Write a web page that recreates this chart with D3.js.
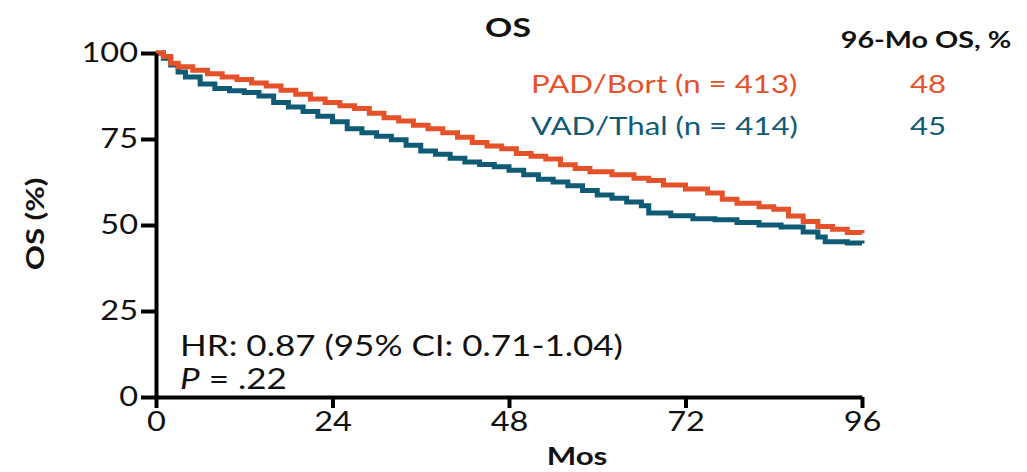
<!DOCTYPE html>
<html>
<head>
<meta charset="utf-8">
<script src="https://cdn.jsdelivr.net/npm/d3@7"></script>
<style>
  body { margin: 0; background: #fff; }
  svg { display: block; }
</style>
</head>
<body>
<svg id="chart" width="1027" height="472"></svg>
<script>
// Kaplan-Meier overall survival, step points (month, OS %)
const padBortMonths = [0, 1, 2, 3, 5, 7, 9, 11, 13, 15, 17, 19, 21, 23, 25, 27, 29, 31, 33, 35, 37, 39, 41, 43, 45, 47, 49, 51, 53, 55, 57, 59, 62, 65, 67, 69, 72, 75, 77, 79, 82, 84, 86, 88, 90, 92, 94, 96];
const padBortOS     = [100, 99, 97, 96, 95, 94, 93, 92.3, 91.3, 90.4, 89.2, 88, 86.6, 85.6, 84.7, 83.9, 82.5, 81.2, 80.2, 79, 78, 76.8, 75.5, 74, 73, 72.2, 70.8, 70, 69.2, 67.5, 66.4, 65.5, 64.6, 63.6, 62.9, 61.6, 60.5, 59.3, 57.5, 56.3, 55.3, 54.6, 52.6, 51, 49.6, 48.8, 47.8, 47.6];

const vadThalMonths = [0, 1, 2, 3, 4, 6, 8, 10, 12, 14, 16, 18, 20, 22, 24, 26, 28, 30, 32, 34, 36, 38, 40, 42, 44, 46, 48, 50, 52, 54, 56, 58, 60, 62, 64, 66, 67, 70, 73, 76, 79, 82, 85, 88, 90, 91, 94, 96];
const vadThalOS     = [100, 98.5, 96.5, 94.5, 93, 91, 89.7, 89, 88.5, 87.5, 85.6, 84.3, 83, 81.6, 80, 78, 76.8, 75.8, 74.8, 73.2, 71.5, 70.6, 69.4, 68.3, 67.6, 66.9, 65.9, 64.6, 63.3, 62.5, 61.4, 60, 58.7, 57.8, 56.7, 55.6, 53.5, 52.7, 51.8, 51.5, 50.7, 50, 49.4, 48, 46.5, 45.1, 44.8, 44.6];

const seriesNames  = ["PAD/Bort (n = 413)", "VAD/Thal (n = 414)"];
const os96Values   = ["48", "45"];
const xTickValues  = [0, 24, 48, 72, 96];
const yTickValues  = [0, 25, 50, 75, 100];
const hrText       = "HR: 0.87 (95% CI: 0.71-1.04)";
const pValueText   = " = .22";

const ORANGE = "#e5522a";
const TEAL   = "#0f5a74";
const FONT   = "Lato, 'Open Sans', sans-serif";
const SX     = 1.25;   // glyphs are set wide

const svg = d3.select("#chart");
const x = d3.scaleLinear().domain([0, 96]).range([156, 862]);
const y = d3.scaleLinear().domain([0, 100]).range([397, 53]);

// widen text horizontally around its anchor point
function widen(sel) {
  sel.each(function () {
    const t = d3.select(this);
    const ax = +t.attr("x") || 0, ay = +t.attr("y") || 0;
    t.attr("transform", `translate(${ax},${ay}) scale(${SX},1)`).attr("x", 0).attr("y", 0);
  });
}

function label(px, py, str, opts = {}) {
  const t = svg.append("text")
    .attr("x", px).attr("y", py)
    .attr("font-family", FONT)
    .attr("font-size", opts.size || 26)
    .attr("font-weight", opts.bold ? 700 : 400)
    .attr("fill", opts.color || "#111")
    .attr("text-anchor", opts.anchor || "start")
    .text(str);
  widen(t);
  return t;
}

// survival curves
const line = (ms, vs) => d3.line()
  .x(i => x(ms[i]))
  .y(i => y(vs[i]))
  .curve(d3.curveStepAfter)(d3.range(ms.length));

svg.append("path")
  .attr("d", line(vadThalMonths, vadThalOS))
  .attr("fill", "none").attr("stroke", TEAL).attr("stroke-width", 5);
svg.append("path")
  .attr("d", line(padBortMonths, padBortOS))
  .attr("fill", "none").attr("stroke", ORANGE).attr("stroke-width", 5);

// axes
const yAxis = svg.append("g")
  .attr("transform", `translate(${x(0)},0)`)
  .call(d3.axisLeft(y).tickValues(yTickValues).tickSize(15).tickPadding(3).tickSizeOuter(0));
const xAxis = svg.append("g")
  .attr("transform", `translate(0,${y(0)})`)
  .call(d3.axisBottom(x).tickValues(xTickValues).tickSize(11).tickPadding(5).tickSizeOuter(0));

[yAxis, xAxis].forEach(ax => {
  ax.select(".domain").attr("stroke", "#000").attr("stroke-width", 4);
  ax.selectAll(".tick line").attr("stroke", "#000").attr("stroke-width", 4);
  ax.selectAll(".tick text")
    .attr("font-family", FONT).attr("font-size", 26).attr("fill", "#111");
  widen(ax.selectAll(".tick text"));
});
xAxis.selectAll(".tick text").attr("dy", "0.71em");

// titles
label(508, 37, "OS", { bold: true, size: 27, anchor: "middle" });
label(926, 48, "96-Mo OS, %", { bold: true, size: 23, anchor: "middle" });
label(577, 465, "Mos", { bold: true, size: 25, anchor: "middle" });

svg.append("text")
  .attr("transform", `translate(44,224) rotate(-90) scale(${SX},1)`)
  .attr("font-family", FONT).attr("font-size", 25).attr("font-weight", 700)
  .attr("fill", "#111").attr("text-anchor", "middle")
  .text("OS (%)");

// legend with 96-month values
const legendColors = [ORANGE, TEAL];
seriesNames.forEach((name, i) => {
  label(531, 93 + i * 42, name, { size: 25, color: legendColors[i] });
  label(928, 93 + i * 42, os96Values[i], { size: 25, color: legendColors[i], anchor: "middle" });
});

// statistics
label(180, 356, hrText, { size: 28 });
const pText = label(180, 389, "", { size: 28 });
pText.append("tspan").attr("font-style", "italic").text("P");
pText.append("tspan").text(pValueText);
</script>
</body>
</html>
